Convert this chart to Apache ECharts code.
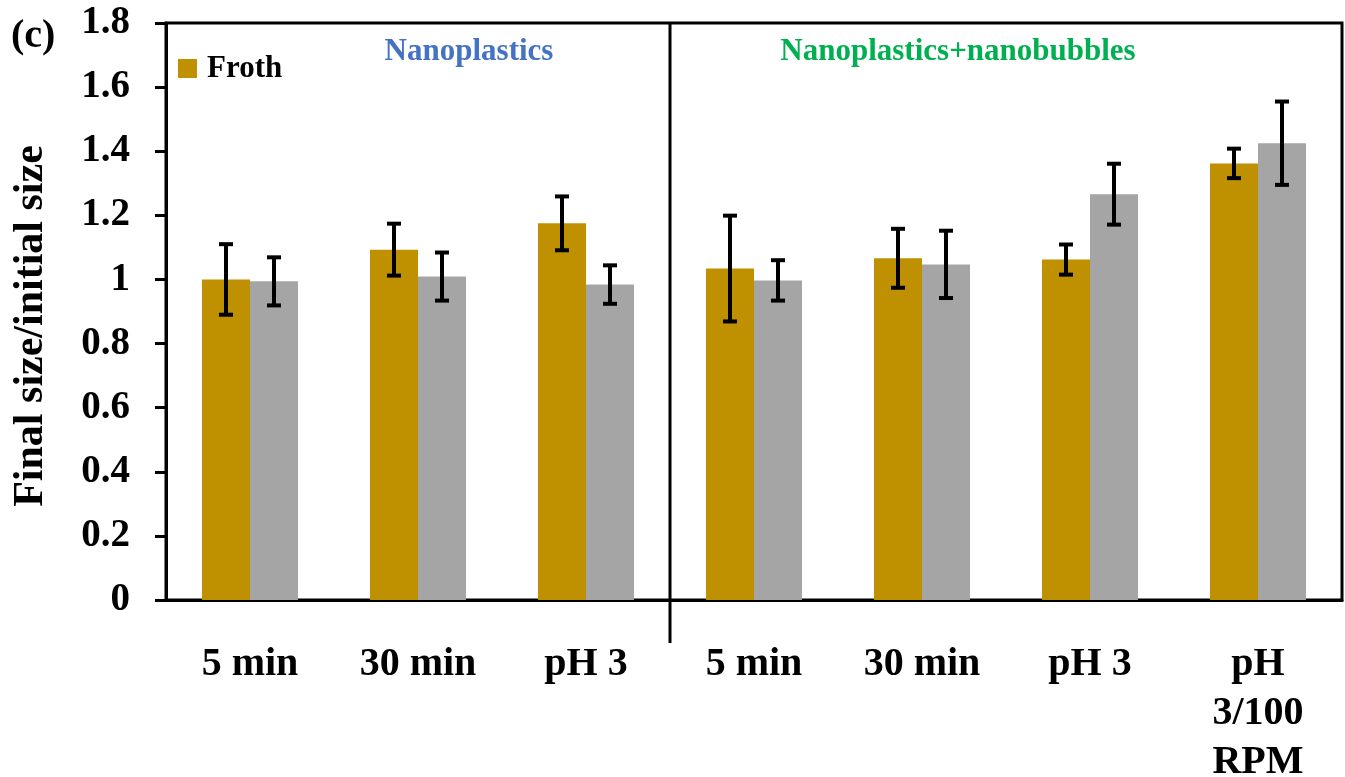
<!DOCTYPE html>
<html>
<head>
<meta charset="utf-8">
<style>
  html, body { margin: 0; padding: 0; background: #fff; }
  #chart { width: 1345px; height: 777px; }
</style>
<script src="https://cdn.jsdelivr.net/npm/echarts@6/dist/echarts.min.js"></script>
</head>
<body>
<div id="chart"></div>
<script>
// Size ratio after treatment, two sample sets per condition
const categories = ['5 min', '30 min', 'pH 3', '5 min', '30 min', 'pH 3', 'pH\n3/100\nRPM'];
const frothValues = [1.000, 1.093, 1.175, 1.034, 1.066, 1.062, 1.362];
const frothErrors = [0.110, 0.081, 0.084, 0.165, 0.092, 0.047, 0.046];
const bulkValues = [0.994, 1.009, 0.984, 0.997, 1.047, 1.266, 1.425];
const bulkErrors = [0.075, 0.075, 0.060, 0.063, 0.105, 0.095, 0.130];
const yTicks = ['0', '0.2', '0.4', '0.6', '0.8', '1', '1.2', '1.4', '1.6', '1.8'];

const FONT = "'Liberation Serif', 'Times New Roman', serif";
const GOLD = '#BF9000';
const GREY = '#A5A5A5';
const BAR_SHARE = 0.2857; // each bar's share of a category band

const chart = echarts.init(document.getElementById('chart'), null, { renderer: 'canvas' });

// error bar drawn at a bar's centre; side = -1 (left bar) or +1 (right bar)
function errorBarRenderer(side) {
  return function (params, api) {
    const idx = api.value(0);
    const band = api.size([1, 0])[0];
    const x = api.coord([idx, 0])[0] + side * band * BAR_SHARE / 2;
    const yLow = api.coord([idx, api.value(1)])[1];
    const yHigh = api.coord([idx, api.value(2)])[1];
    const cap = 7;
    const style = { stroke: '#000', lineWidth: 4 };
    return {
      type: 'group',
      children: [
        { type: 'line', shape: { x1: x, y1: yLow, x2: x, y2: yHigh }, style },
        { type: 'line', shape: { x1: x - cap, y1: yHigh, x2: x + cap, y2: yHigh }, style },
        { type: 'line', shape: { x1: x - cap, y1: yLow, x2: x + cap, y2: yLow }, style }
      ]
    };
  };
}

function errorData(values, errors) {
  return values.map((v, i) => [i, v - errors[i], v + errors[i]]);
}

chart.setOption({
  animation: false,
  backgroundColor: '#fff',
  grid: {
    left: 166, top: 23, width: 1176, height: 577,
    show: true, borderColor: '#000', borderWidth: 3,
    containLabel: false, outerBoundsMode: 'none'
  },
  legend: {
    data: ['Froth'],
    left: 178, top: 53,
    padding: 0,
    itemWidth: 19, itemHeight: 19,
    icon: 'rect',
    selectedMode: false,
    textStyle: {
      fontFamily: FONT, fontWeight: 'bold', fontSize: 31, color: '#000',
      padding: [0, 0, 7, 5]
    }
  },
  xAxis: {
    type: 'category',
    data: categories,
    axisLine: { show: true, lineStyle: { color: '#000', width: 3 } },
    axisTick: { show: false },
    axisLabel: {
      interval: 0,
      margin: 40,
      color: '#000',
      fontFamily: FONT, fontWeight: 'bold', fontSize: 40, lineHeight: 49
    },
    splitLine: { show: false }
  },
  yAxis: {
    type: 'value',
    min: 0, max: 1.8, interval: 0.2,
    axisLine: { show: true, lineStyle: { color: '#000', width: 3 } },
    axisTick: { show: true, inside: false, length: 11, lineStyle: { color: '#000', width: 3 } },
    axisLabel: {
      margin: 36,
      color: '#000',
      fontFamily: FONT, fontWeight: 'bold', fontSize: 39,
      formatter: (v) => yTicks[Math.round(v / 0.2)]
    },
    splitLine: { show: false }
  },
  series: [
    {
      name: 'Froth', type: 'bar', data: frothValues,
      barWidth: (BAR_SHARE * 100) + '%', barGap: '0%',
      itemStyle: { color: GOLD }
    },
    {
      name: 'Bulk', type: 'bar', data: bulkValues,
      barWidth: (BAR_SHARE * 100) + '%', barGap: '0%',
      itemStyle: { color: GREY }
    },
    {
      name: 'Froth error', type: 'custom', z: 10,
      renderItem: errorBarRenderer(-1),
      encode: { x: 0, y: [1, 2] },
      data: errorData(frothValues, frothErrors)
    },
    {
      name: 'Bulk error', type: 'custom', z: 10,
      renderItem: errorBarRenderer(1),
      encode: { x: 0, y: [1, 2] },
      data: errorData(bulkValues, bulkErrors)
    }
  ]
});

// group divider, section titles, panel letter and y-axis title
const xa = chart.convertToPixel({ xAxisIndex: 0 }, 2);
const xb = chart.convertToPixel({ xAxisIndex: 0 }, 3);
const xDiv = (xa + xb) / 2;
const yTop = chart.convertToPixel({ yAxisIndex: 0 }, 1.8);
const yZero = chart.convertToPixel({ yAxisIndex: 0 }, 0);
const xLeftTitle = chart.convertToPixel({ xAxisIndex: 0 }, 1) + 51;
const xRightTitle = chart.convertToPixel({ xAxisIndex: 0 }, 4) + 36;

chart.setOption({
  graphic: [
    {
      type: 'line', z: 20,
      shape: { x1: xDiv, y1: yTop, x2: xDiv, y2: yZero + 43 },
      style: { stroke: '#000', lineWidth: 3 }
    },
    {
      type: 'text', z: 20, x: xLeftTitle, y: 52,
      style: {
        text: 'Nanoplastics', fill: '#4472C4', align: 'center', verticalAlign: 'middle',
        font: "bold 31px " + FONT
      }
    },
    {
      type: 'text', z: 20, x: xRightTitle, y: 52,
      style: {
        text: 'Nanoplastics+nanobubbles', fill: '#00B050', align: 'center', verticalAlign: 'middle',
        font: "bold 31px " + FONT
      }
    },
    {
      type: 'text', z: 20, x: 11, y: 37,
      style: {
        text: '(c)', fill: '#000', align: 'left', verticalAlign: 'middle',
        font: "bold 40px " + FONT
      }
    },
    {
      type: 'text', z: 20, x: 31, y: 326, rotation: Math.PI / 2,
      style: {
        text: 'Final size/initial size', fill: '#000', align: 'center', verticalAlign: 'middle',
        font: "bold 42px " + FONT
      }
    }
  ]
});
</script>
</body>
</html>
